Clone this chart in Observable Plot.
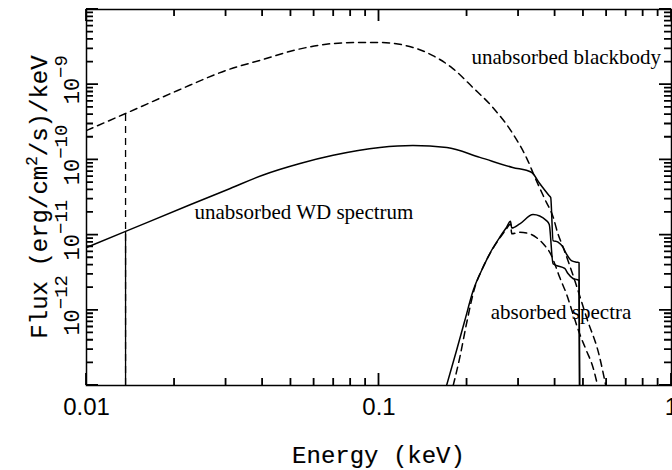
<!DOCTYPE html>
<html>
<head>
<meta charset="utf-8">
<script src="https://cdn.jsdelivr.net/npm/d3@7"></script>
<script src="https://cdn.jsdelivr.net/npm/@observablehq/plot@0.6"></script>
<style>
html, body { margin: 0; padding: 0; background: #fff; overflow: hidden; }
#chart svg { display: block; background: #fff; }
</style>
</head>
<body>
<div id="chart"></div>
<script>
// ---- data (energy in keV, flux in (erg/cm^2/s)/keV) ----
const bbUnabsEnergy = [0.0100, 0.0136, 0.0205, 0.0303, 0.0402, 0.0509, 0.0697, 0.0841, 0.1007, 0.1306, 0.1528, 0.1789, 0.2094, 0.2450, 0.2864, 0.320, 0.341, 0.369, 0.394, 0.409, 0.426, 0.467, 0.512, 0.568, 0.596];
const bbUnabsFlux   = [2.46e-10, 4.14e-10, 8.37e-10, 1.57e-9, 2.17e-9, 2.85e-9, 3.53e-9, 3.64e-9, 3.64e-9, 3.13e-9, 2.44e-9, 1.64e-9, 9.18e-10, 4.98e-10, 2.25e-10, 1.05e-10, 5.9e-11, 3.0e-11, 1.73e-11, 1.04e-11, 6.9e-12, 2.49e-12, 8.09e-13, 2.38e-13, 1.0e-13];

const wdUnabsEnergy = [0.0100, 0.0136, 0.0226, 0.0310, 0.0402, 0.0537, 0.0697, 0.1007, 0.1306, 0.1706, 0.2212, 0.2864, 0.3320, 0.3543, 0.3813, 0.3864, 0.3936, 0.4093, 0.4256, 0.4371, 0.4547, 0.4741, 0.4830, 0.4850];
const wdUnabsFlux   = [6.84e-12, 1.12e-11, 2.53e-11, 4.17e-11, 6.3e-11, 8.95e-11, 1.15e-10, 1.46e-10, 1.55e-10, 1.46e-10, 1.08e-10, 7.93e-11, 6.85e-11, 4.85e-11, 3.36e-11, 3.16e-11, 8.47e-12, 8.05e-12, 6.90e-12, 5.64e-12, 4.59e-12, 4.36e-12, 4.3e-12, 1.0e-13];

const wdAbsEnergy = [0.1702, 0.1841, 0.1965, 0.2099, 0.2270, 0.2424, 0.2588, 0.2728, 0.2815, 0.2844, 0.3029, 0.3362, 0.3736, 0.3820, 0.3936, 0.4042, 0.4313, 0.4426, 0.4604, 0.4741, 0.4830, 0.4850];
const wdAbsFlux   = [1.0e-13, 2.92e-13, 7.31e-13, 1.83e-12, 3.74e-12, 6.24e-12, 9.38e-12, 1.27e-11, 1.53e-11, 1.24e-11, 1.41e-11, 1.88e-11, 1.56e-11, 1.38e-11, 4.15e-12, 3.94e-12, 3.60e-12, 3.08e-12, 2.65e-12, 2.57e-12, 2.5e-12, 1.0e-13];

const bbAbsEnergy = [0.1793, 0.1890, 0.1992, 0.2127, 0.2241, 0.2392, 0.2554, 0.2728, 0.2815, 0.2844, 0.3029, 0.3276, 0.3497, 0.3686, 0.3885, 0.3988, 0.4147, 0.4371, 0.4604, 0.4853, 0.5117, 0.5388, 0.5589];
const bbAbsFlux   = [1.0e-13, 2.38e-13, 6.67e-13, 2.03e-12, 3.38e-12, 5.64e-12, 8.47e-12, 1.21e-11, 1.41e-11, 1.04e-11, 1.09e-11, 1.04e-11, 8.93e-12, 7.28e-12, 5.36e-12, 4.15e-12, 2.75e-12, 1.66e-12, 8.97e-13, 4.86e-13, 2.92e-13, 1.75e-13, 1.0e-13];

// Lyman limit marker (13.6 eV)
const lymanEnergy = [0.0136];
const lymanBBTop = [4.14e-10];
const lymanWDTop = [1.12e-11];

// annotations
const noteText   = ["unabsorbed blackbody", "unabsorbed WD spectrum", "absorbed spectra"];
const noteEnergy = [0.2072, 0.0234, 0.2411];
const noteFlux   = [1.90e-9, 1.65e-11, 7.55e-13];

// axes
const xDomain = [0.01, 1];
const yDomain = [1e-13, 1e-8];
const xMajorTicks = [0.01, 0.1, 1];
const xMinorTicks = [0.02, 0.03, 0.04, 0.05, 0.06, 0.07, 0.08, 0.09, 0.2, 0.3, 0.4, 0.5, 0.6, 0.7, 0.8, 0.9];
const xTickLabels = ["0.01", "0.1", "1"];
const yMajorTicks = [1e-13, 1e-12, 1e-11, 1e-10, 1e-9, 1e-8];
const yMinorTicks = [-13, -12, -11, -10, -9].flatMap(e => [2,3,4,5,6,7,8,9].map(m => +(m + "e" + e)));
const yLabelValues = [1e-12, 1e-11, 1e-10, 1e-9];
const yLabelExponents = ["\u221212", "\u221211", "\u221210", "\u22129"];
const xTitle = "Energy (keV)";
const yTitleParts = ["Flux (erg/cm", "2", "/s)/keV"];

// ---- build tables ----
const toRows = (E, F) => E.map((e, i) => ({energy: e, flux: F[i]}));
const bbUnabs = toRows(bbUnabsEnergy, bbUnabsFlux);
const wdUnabs = toRows(wdUnabsEnergy, wdUnabsFlux);
const wdAbs = toRows(wdAbsEnergy, wdAbsFlux);
const bbAbs = toRows(bbAbsEnergy, bbAbsFlux);
const notes = noteText.map((t, i) => ({text: t, energy: noteEnergy[i], flux: noteFlux[i]}));
const yLabels = yLabelValues.map((v, i) => ({v, exp: yLabelExponents[i]}));
const xLabels = xMajorTicks.map((v, i) => ({v, text: xTickLabels[i]}));

const W = 672, H = 470, ML = 86, MR = 1, MT = 9, MB = 85;
const MAJ = 12, MIN = 7;
const dash = "7,5";
const lineStyle = {x: "energy", y: "flux", stroke: "#000", strokeWidth: 1.5, curve: "monotone-x", clip: true};

const plot = Plot.plot({
  width: W,
  height: H,
  marginLeft: ML,
  marginRight: MR,
  marginTop: MT,
  marginBottom: MB,
  style: {background: "#fff", color: "#000"},
  x: {type: "log", domain: xDomain, axis: null},
  y: {type: "log", domain: yDomain, axis: null},
  marks: [
    Plot.frame({stroke: "#000", strokeWidth: 1.5}),
    // Lyman limit
    Plot.ruleX(lymanEnergy, {x: d => d, y1: yDomain[0], y2: (d, i) => lymanBBTop[i], stroke: "#000", strokeWidth: 1.3, strokeDasharray: dash}),
    Plot.ruleX(lymanEnergy, {x: d => d, y1: yDomain[0], y2: (d, i) => lymanWDTop[i], stroke: "#000", strokeWidth: 1.3}),
    // spectra
    Plot.line(bbUnabs, {...lineStyle, strokeDasharray: dash}),
    Plot.line(wdUnabs, lineStyle),
    Plot.line(bbAbs, {...lineStyle, strokeDasharray: dash}),
    Plot.line(wdAbs, lineStyle),
    // annotations
    Plot.text(notes, {x: "energy", y: "flux", text: "text", textAnchor: "start", lineAnchor: "bottom",
      fontFamily: "Liberation Serif", fontSize: 21, fill: "#000"}),
    // x tick labels
    Plot.text(xLabels, {x: "v", text: "text", frameAnchor: "bottom", dy: 29, lineAnchor: "bottom",
      fontFamily: "Liberation Sans", fontSize: 24, fill: "#000"}),
    // y tick labels (exponent set as superscript below)
    Plot.text(yLabels, {y: "v", text: d => "10^" + d.exp, frameAnchor: "left", dx: -8, dy: -5, rotate: -90,
      lineAnchor: "bottom", textAnchor: "middle", fontFamily: "Liberation Mono", fontSize: 22, fill: "#000"})
  ]
});

document.getElementById("chart").appendChild(plot);
const svg = d3.select(plot);
const xs = plot.scale("x"), ys = plot.scale("y");

// inward ticks on all four sides, positioned through Plot's scales
const pLeft = ML, pRight = W - MR, pTop = MT, pBottom = H - MB;
const tickPath = [];
xMajorTicks.forEach(v => { const p = xs.apply(v); tickPath.push(`M${p},${pBottom}v${-MAJ}`, `M${p},${pTop}v${MAJ}`); });
xMinorTicks.forEach(v => { const p = xs.apply(v); tickPath.push(`M${p},${pBottom}v${-MIN}`, `M${p},${pTop}v${MIN}`); });
yMajorTicks.forEach(v => { const p = ys.apply(v); tickPath.push(`M${pLeft},${p}h${MAJ}`, `M${pRight},${p}h${-MAJ}`); });
yMinorTicks.forEach(v => { const p = ys.apply(v); tickPath.push(`M${pLeft},${p}h${MIN}`, `M${pRight},${p}h${-MIN}`); });
svg.append("path")
  .attr("d", tickPath.join(" "))
  .attr("fill", "none")
  .attr("stroke", "#000")
  .attr("stroke-width", 1.8)
  .attr("stroke-linecap", "butt");

// superscripts for y tick labels
svg.selectAll("text").each(function() {
  const t = this.textContent;
  const m = /^10\^(.+)$/.exec(t);
  if (!m) return;
  const s = d3.select(this);
  s.text(null);
  s.append("tspan").text("10");
  s.append("tspan").attr("dy", -12).attr("font-size", 19).text(m[1]);
});

// axis titles
const xMid = (xs.apply(xDomain[0]) + xs.apply(xDomain[1])) / 2;
const yMid = (ys.apply(yDomain[0]) + ys.apply(yDomain[1])) / 2;
svg.append("text")
  .attr("x", xMid).attr("y", 463)
  .attr("text-anchor", "middle")
  .attr("font-family", "Liberation Mono").attr("font-size", 24)
  .attr("fill", "#000").attr("stroke", "#000").attr("stroke-width", 0.15)
  .text(xTitle);
const yt = svg.append("text")
  .attr("transform", `translate(47,${yMid}) rotate(-90)`)
  .attr("text-anchor", "middle")
  .attr("font-family", "Liberation Mono").attr("font-size", 24)
  .attr("fill", "#000").attr("stroke", "#000").attr("stroke-width", 0.15);
yt.append("tspan").text(yTitleParts[0]);
yt.append("tspan").attr("dy", -10).attr("font-size", 16).text(yTitleParts[1]);
yt.append("tspan").attr("dy", 10).text(yTitleParts[2]);
</script>
</body>
</html>
